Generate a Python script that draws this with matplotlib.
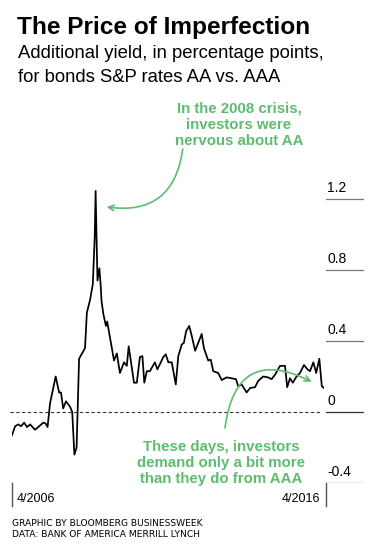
import matplotlib
matplotlib.use('Agg')
import matplotlib.pyplot as plt

# AA minus AAA spread, percentage points
years = [2006.25, 2006.35, 2006.45, 2006.54, 2006.64, 2006.73, 2006.83, 2006.99,
         2007.09, 2007.25, 2007.33, 2007.39, 2007.47, 2007.65, 2007.76, 2007.82,
         2007.89, 2007.98, 2008.11, 2008.18, 2008.25, 2008.32, 2008.40, 2008.59,
         2008.65, 2008.75, 2008.84, 2008.90, 2008.93, 2008.96, 2008.99, 2009.05,
         2009.09, 2009.12, 2009.18, 2009.26, 2009.30, 2009.39, 2009.52, 2009.61,
         2009.71, 2009.84, 2009.93, 2009.99, 2010.09, 2010.16, 2010.25, 2010.35,
         2010.43, 2010.49, 2010.57, 2010.67, 2010.83, 2010.91, 2011.10, 2011.18,
         2011.26, 2011.37, 2011.50, 2011.58, 2011.69, 2011.76, 2011.83, 2011.93,
         2012.01, 2012.12, 2012.22, 2012.33, 2012.40, 2012.54, 2012.62, 2012.70,
         2012.86, 2012.97, 2013.13, 2013.29, 2013.43, 2013.50, 2013.61, 2013.77,
         2013.88, 2014.04, 2014.14, 2014.30, 2014.46, 2014.57, 2014.68, 2014.84,
         2015.00, 2015.07, 2015.16, 2015.25, 2015.37, 2015.48, 2015.61, 2015.72,
         2015.80, 2015.91, 2016.00, 2016.10, 2016.18, 2016.25]
spread = [-0.13, -0.08, -0.07, -0.08, -0.06, -0.085, -0.07, -0.10,
          -0.085, -0.06, -0.065, -0.085, 0.05, 0.20, 0.11, 0.11,
          0.02, 0.06, 0.03, 0.00, -0.24, -0.20, 0.30, 0.36,
          0.56, 0.63, 0.72, 0.98, 1.245, 0.98, 0.74, 0.81,
          0.72, 0.625, 0.55, 0.485, 0.51, 0.42, 0.29, 0.33,
          0.22, 0.28, 0.26, 0.37, 0.25, 0.165, 0.165, 0.31,
          0.315, 0.165, 0.23, 0.23, 0.28, 0.24, 0.31, 0.325,
          0.28, 0.28, 0.155, 0.315, 0.38, 0.39, 0.455, 0.485,
          0.43, 0.345, 0.39, 0.44, 0.36, 0.29, 0.295, 0.23,
          0.22, 0.18, 0.195, 0.19, 0.185, 0.145, 0.155, 0.11,
          0.135, 0.14, 0.175, 0.20, 0.195, 0.185, 0.21, 0.26,
          0.26, 0.14, 0.19, 0.165, 0.20, 0.22, 0.265, 0.24,
          0.23, 0.28, 0.22, 0.30, 0.145, 0.135]

yticks = [1.2, 0.8, 0.4, 0, -0.4]
ytick_labels = ['1.2', '0.8', '0.4', '0', '-0.4']
xtick_labels = ['4/2006', '4/2016']

W, H = 378, 559
green = '#5dbd6e'
sans = ['Liberation Sans', 'DejaVu Sans']


def fx(px):
    return px / W


def fy(py):
    return 1 - py / H


fig = plt.figure(figsize=(W / 100, H / 100), dpi=100)

# main plot area: x from 12px to 324px, y from -0.4 (483px) to 1.3
ymin, ymax = -0.4, 1.3
ax_h = (ymax - ymin) * 177.5
ax = fig.add_axes([fx(12), fy(483), 312 / W, ax_h / H])
ax.plot(years, spread, color='black', lw=1.25, solid_joinstyle='round')
ax.axhline(0, xmin=-0.006, xmax=0.99, color='#333333', lw=0.8,
           ls=(0, (3, 2.2)), clip_on=False)
ax.set_xlim(years[0], years[-1])
ax.set_ylim(ymin, ymax)
ax.axis('off')
ax.plot([0, 0], [0, -23 / ax_h], transform=ax.transAxes, color='#555555',
        lw=1, clip_on=False)

# right-hand tick area
tax = fig.add_axes([fx(326), fy(483), 38 / W, ax_h / H])
tax.set_xlim(0, 1)
tax.set_ylim(ymin, ymax)
tax.axis('off')
for v, lab in zip(yticks, ytick_labels):
    tax.axhline(v, color='#777777' if v != 0 else '#333333', lw=0.9)
    tax.text(0.03, v + 0.025, lab, fontsize=10, family=sans,
             ha='left', va='bottom')
tax.plot([0, 0], [0, -23 / ax_h], transform=tax.transAxes, color='#555555',
         lw=1, clip_on=False)

fig.text(fx(17), fy(502), xtick_labels[0], fontsize=9, family=sans,
         ha='left', va='baseline')
fig.text(fx(320), fy(502), xtick_labels[1], fontsize=9, family=sans,
         ha='right', va='baseline')

# titles
fig.text(fx(17), fy(34), 'The Price of Imperfection', fontsize=17.6,
         fontweight='bold', family=sans, ha='left', va='baseline')
fig.text(fx(18), fy(58), 'Additional yield, in percentage points,',
         fontsize=13.3, family=sans, ha='left', va='baseline')
fig.text(fx(18), fy(82), 'for bonds S&P rates AA vs. AAA',
         fontsize=13.3, family=sans, ha='left', va='baseline')

# annotations
fig.text(fx(239), fy(145), 'In the 2008 crisis,\ninvestors were\nnervous about AA',
         fontsize=10.8, fontweight='bold', color=green, family=sans,
         ha='center', va='baseline', linespacing=1.2)
fig.text(fx(221), fy(483), 'These days, investors\ndemand only a bit more\nthan they do from AAA',
         fontsize=10.8, fontweight='bold', color=green, family=sans,
         ha='center', va='baseline', linespacing=1.2)

ax.annotate('', xy=(106.7, H - 207), xycoords='figure pixels',
            xytext=(182.7, H - 149), textcoords='figure pixels',
            arrowprops=dict(arrowstyle='->', color=green, lw=1.2,
                            connectionstyle='arc3,rad=-0.5',
                            shrinkA=0, shrinkB=0))
ax.annotate('', xy=(311.7, H - 381.7), xycoords='figure pixels',
            xytext=(225, H - 428), textcoords='figure pixels',
            arrowprops=dict(arrowstyle='->', color=green, lw=1.2,
                            connectionstyle='arc3,rad=-0.7',
                            shrinkA=0, shrinkB=0))

# footer
fig.text(fx(12), fy(526), 'GRAPHIC BY BLOOMBERG BUSINESSWEEK', fontsize=6.6,
         family='DejaVu Sans', ha='left', va='baseline')
fig.text(fx(12), fy(537), 'DATA: BANK OF AMERICA MERRILL LYNCH', fontsize=6.6,
         family='DejaVu Sans', ha='left', va='baseline')

fig.savefig('out.png', dpi=100)
